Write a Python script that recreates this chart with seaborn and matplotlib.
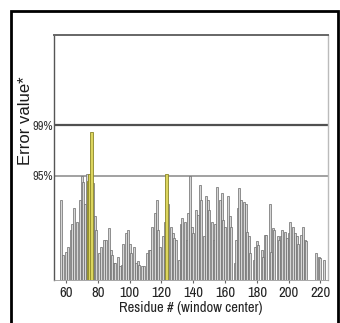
import matplotlib
matplotlib.use("Agg")
import matplotlib.pyplot as plt
import seaborn as sns
import pandas as pd
from matplotlib.patches import Rectangle

# ---- data ----
residues = [57, 58, 60, 61, 63, 64, 65, 67, 69, 70, 71, 72, 73, 77, 78, 79, 81, 82, 84, 85,
            87, 88, 89, 90, 91, 93, 94, 95, 96, 98, 99, 100, 101, 103, 104, 105, 106, 108, 109,
            111, 112, 113, 114, 116, 117, 118, 119, 121, 122, 124, 126, 127, 128, 129, 131, 132,
            133, 135, 136, 137, 138, 139, 140, 142, 143, 144, 145, 147, 148, 149, 150, 152, 153,
            154, 155, 157, 158, 159, 160, 162, 163, 164, 166, 167, 168, 169, 170, 172, 173, 174,
            175, 176, 178, 179, 180, 181, 183, 184, 185, 186, 188, 189, 190, 191, 193, 194, 195,
            196, 198, 199, 200, 201, 203, 204, 205, 206, 208, 209, 210, 211, 217, 219, 220, 222]
error_values = [0.77, 0.24, 0.27, 0.32, 0.48, 0.54, 0.69, 0.56, 0.77, 1.00, 0.94, 0.73, 1.02,
                0.93, 0.61, 0.48, 0.26, 0.32, 0.38, 0.38, 0.50, 0.29, 0.24, 0.16, 0.16, 0.22,
                0.13, 0.14, 0.35, 0.45, 0.48, 0.35, 0.26, 0.32, 0.16, 0.18, 0.14, 0.13, 0.13,
                0.26, 0.29, 0.29, 0.51, 0.64, 0.77, 0.48, 0.32, 0.42, 0.56, 0.73, 0.51, 0.45,
                0.40, 0.38, 0.19, 0.54, 0.59, 0.56, 0.38, 0.64, 1.00, 0.51, 0.45, 0.67, 0.62,
                0.91, 0.77, 0.42, 0.81, 0.77, 0.67, 0.56, 0.38, 0.54, 0.89, 0.77, 0.83, 0.58,
                0.51, 0.81, 0.61, 0.51, 0.16, 0.38, 0.69, 0.88, 0.77, 0.75, 0.73, 0.46, 0.42,
                0.26, 0.19, 0.32, 0.37, 0.34, 0.29, 0.22, 0.43, 0.43, 0.73, 0.27, 0.50, 0.48,
                0.42, 0.38, 0.42, 0.48, 0.46, 0.40, 0.45, 0.56, 0.51, 0.45, 0.42, 0.35, 0.43,
                0.51, 0.38, 0.37, 0.26, 0.22, 0.21, 0.19]
hl_residues = [74, 75, 76, 123]
hl_values = [0.95, 1.02, 1.42, 1.02]
threshold_labels = ["95%", "99%"]
threshold_values = [1.0, 1.486]
x_ticks = [60, 80, 100, 120, 140, 160, 180, 200, 220]

df = pd.DataFrame({"residue": residues, "error": error_values})
dfh = pd.DataFrame({"residue": hl_residues, "error": hl_values})

sns.set_style("white")
NARROW = ["Archivo Narrow", "PT Sans Narrow", "DejaVu Sans"]
plt.rcParams["font.family"] = NARROW

fig = plt.figure(figsize=(3.40, 3.23), dpi=100)
ax = fig.add_axes([0.159, 0.133, 0.806, 0.759])

sns.barplot(data=df, x="residue", y="error", native_scale=True, width=1.25,
            color="#d6d6d6", edgecolor="#6a6a6a", linewidth=0.5, ax=ax, saturation=1)
sns.barplot(data=dfh, x="residue", y="error", native_scale=True, width=1.7,
            color="#dcd55e", edgecolor="#8a8526", linewidth=0.6, ax=ax, saturation=1)

ax.axhline(threshold_values[0], color="#9a9a9a", lw=1.3, zorder=0)
ax.axhline(threshold_values[1], color="#505050", lw=1.6, zorder=0)

ax.set_xlim(52.5, 224.8)
ax.set_ylim(0, 2.35)
ax.set_xticks(x_ticks)
ax.set_xticklabels([str(t) for t in x_ticks], fontsize=10.5, color="#222222")
ax.set_yticks(threshold_values)
ax.set_yticklabels(threshold_labels, fontsize=9, color="#333333")
ax.tick_params(axis="x", length=2, pad=2, color="#666666", bottom=True)
ax.tick_params(axis="y", length=0, pad=1)

ax.set_xlabel("Residue # (window center)", fontsize=10.5, color="#222222", labelpad=1)
ax.set_ylabel("Error value*", fontsize=12, family=["Liberation Sans", "DejaVu Sans"],
              color="#1a1a1a")
ax.yaxis.set_label_coords(-0.078, 0.65)

for side, col, lw in [("top", "#666666", 1.4), ("left", "#555555", 1.0),
                      ("right", "#bbbbbb", 1.0), ("bottom", "#999999", 0.6)]:
    ax.spines[side].set_visible(True)
    ax.spines[side].set_color(col)
    ax.spines[side].set_linewidth(lw)

# outer black frame
fig.patches.append(Rectangle((11 / 340, -0.05), (338 - 11) / 340, 1 - 11 / 323 + 0.05,
                             transform=fig.transFigure, fill=False, edgecolor="black",
                             linewidth=2.0))

fig.savefig("out.png", dpi=100)
